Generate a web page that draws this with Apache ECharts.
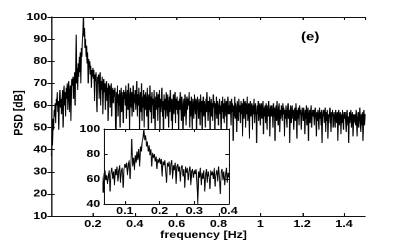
<!DOCTYPE html>
<html><head><meta charset="utf-8">
<script src="https://cdn.jsdelivr.net/npm/echarts@6/dist/echarts.min.js"></script>
<style>
html,body{margin:0;padding:0;overflow:hidden;background:#fff;width:403px;height:240px}
#c{width:322.4px;height:240px;transform:scaleX(1.25);transform-origin:0 0;}
</style>
</head><body><div id="c"></div>
<script>
// uniform frequency grid of the spectrum (Hz)
const freqStart = 0.0025;
const freqStep = 0.0025;
// PSD values in dB (one row = 0.05 Hz)
const psdValues = [
37,46,42,54,49,58,55,61,52,63,60,66,57,62,49,64,67,59,63,56,
62,67,50,65,69,60,66,55,68,63,70,58,67,71,57,66,69,53,68,72,
69,73,63,71,75,60,73,92,70,77,67,79,73,82,75,84,70,86,82,90,
93,100,91,95,86,90,82,87,79,84,70,81,77,80,74,78,68,76,73,77,
72,76,62,74,71,75,66,57,73,70,74,63,72,75,60,71,67,73,56,70,
72,66,70,58,69,71,62,68,53,70,65,69,59,67,70,55,66,68,61,67,
64,68,58,40,66,61,69,55,65,60,67,50,64,68,57,66,62,52,67,63,
66,60,69,54,64,67,58,70,62,48,65,68,59,66,55,64,69,57,65,61,
67,58,64,71,55,65,60,68,47,63,66,57,70,53,64,59,67,50,65,58,
66,61,55,68,62,46,65,58,69,57,64,52,66,60,63,54,67,59,49,64,
58,66,62,53,65,59,67,48,63,57,64,68,55,62,45,65,58,63,54,66,
62,55,65,60,50,64,57,67,61,53,63,47,60,65,56,62,66,52,63,58,
64,56,62,49,63,58,66,60,53,64,61,46,59,63,55,65,60,51,62,64,
58,63,60,66,50,62,55,64,59,48,63,60,54,65,61,56,63,46,61,64,
59,54,63,60,51,65,57,62,45,61,64,55,62,59,50,63,57,66,60,53,
62,57,64,48,60,63,55,61,53,65,59,62,47,61,56,64,54,62,59,51,
61,63,56,60,46,62,57,64,54,61,52,63,59,55,62,49,61,64,56,60,
56,62,59,51,63,57,61,44,60,55,64,54,61,58,48,62,59,53,63,57,
60,52,62,56,61,46,59,63,54,60,62,50,61,56,64,53,59,61,45,60,
62,55,59,61,49,60,56,63,52,59,61,55,43,60,56,62,53,59,61,51,
59,61,54,58,62,47,59,55,60,52,61,57,49,60,55,62,58,46,58,60,
55,60,57,50,61,55,59,44,58,60,53,62,56,51,59,61,48,58,54,60,
58,53,61,56,59,46,58,54,60,56,50,59,61,54,58,43,57,60,52,58,
60,54,58,49,57,59,53,61,56,45,58,54,59,51,60,56,58,49,55,59,
57,53,59,55,47,58,54,60,51,57,59,44,56,58,52,57,60,50,55,58,
55,58,51,57,59,54,46,57,53,58,55,49,59,54,57,51,58,43,55,57,
58,52,56,59,48,57,53,58,45,56,52,57,59,54,48,57,55,58,50,55,
57,54,50,58,55,52,57,44,56,58,51,55,57,47,56,52,58,54,49,57,
54,57,53,48,56,58,51,55,43,57,52,56,58,50,55,57,46,56,52,55,
56,51,58,54,46,54,57,50,55,59,52,48,56,51,57,44,55,58,51,56
];
const mainXTickLabels = ['0.2','0.4','0.6','0.8','1','1.2','1.4'];
const mainYTickLabels = ['10','20','30','40','50','60','70','80','90','100'];
const insetXTickLabels = ['0.1','0.2','0.3','0.4'];
const insetYTickLabels = ['40','60','80','100'];
const xTitle = 'frequency [Hz]';
const yTitle = 'PSD [dB]';
const panelLabel = '(e)';

const seriesData = psdValues.map((v, i) => [+(freqStart + i * freqStep).toFixed(4), v]);
const fontFam = '"Liberation Sans", Arial, Helvetica, sans-serif';
const lab = (list) => (v) => { const s = String(+v.toFixed(3)); return list.indexOf(s) >= 0 ? s : ''; };
const axisLine = { show: true, lineStyle: { color: '#111', width: 1 } };
const tick = { show: true, inside: true, length: 3, lineStyle: { color: '#111', width: 1 } };

const chart = echarts.init(document.getElementById('c'), null, { renderer: 'canvas', devicePixelRatio: 2 });
chart.setOption({
  animation: false,
  backgroundColor: '#fff',
  grid: [
    { left: 40.8, top: 17, width: 251.2, height: 199, show: false, containLabel: false, outerBoundsMode: 'none' },
    { left: 83.2, top: 129, width: 100, height: 75, show: true, backgroundColor: '#fff', borderWidth: 0, z: 5,
      containLabel: false, outerBoundsMode: 'none' }
  ],
  xAxis: [
    { gridIndex: 0, type: 'value', min: 0, max: 1.5, interval: 0.2, position: 'bottom',
      axisLine, axisTick: tick, splitLine: { show: false },
      axisLabel: { fontSize: 10, fontWeight: 'bold', color: '#000', fontFamily: fontFam, margin: 3,
        showMinLabel: false, showMaxLabel: false, formatter: lab(mainXTickLabels) },
      name: xTitle, nameLocation: 'middle', nameGap: 14, nameMoveOverlap: false,
      nameTextStyle: { fontSize: 10, fontWeight: 'bold', color: '#000', fontFamily: fontFam, padding: [0, 7, 0, 0] } },
    { gridIndex: 0, type: 'value', min: 0, max: 1.5, interval: 0.2, position: 'top',
      axisLine, axisTick: tick, axisLabel: { show: false }, splitLine: { show: false } },
    { gridIndex: 1, type: 'value', min: 0.04, max: 0.4, splitNumber: 4, minInterval: 0.1, maxInterval: 0.1,
      position: 'bottom', z: 7,
      axisLine, axisTick: tick, splitLine: { show: false },
      axisLabel: { fontSize: 10, fontWeight: 'bold', color: '#000', fontFamily: fontFam, margin: 2,
        showMinLabel: false, formatter: lab(insetXTickLabels) } },
    { gridIndex: 1, type: 'value', min: 0.04, max: 0.4, splitNumber: 4, minInterval: 0.1, maxInterval: 0.1,
      position: 'top', z: 7,
      axisLine, axisTick: tick, axisLabel: { show: false }, splitLine: { show: false } }
  ],
  yAxis: [
    { gridIndex: 0, type: 'value', min: 10, max: 100, interval: 10, position: 'left',
      axisLine, axisTick: tick, splitLine: { show: false },
      axisLabel: { fontSize: 10, fontWeight: 'bold', color: '#000', fontFamily: fontFam, margin: 3, formatter: lab(mainYTickLabels) },
      name: yTitle, nameLocation: 'middle', nameGap: 20, nameMoveOverlap: false,
      nameTextStyle: { fontSize: 10.5, fontWeight: 'bold', color: '#000', fontFamily: fontFam, padding: [0, 0, 0, 7] } },
    { gridIndex: 0, type: 'value', min: 10, max: 100, interval: 10, position: 'right',
      axisLine, axisTick: tick, axisLabel: { show: false }, splitLine: { show: false } },
    { gridIndex: 1, type: 'value', min: 40, max: 100, interval: 20, position: 'left', z: 7,
      axisLine, axisTick: tick, splitLine: { show: false },
      axisLabel: { fontSize: 10, fontWeight: 'bold', color: '#000', fontFamily: fontFam, margin: 3, formatter: lab(insetYTickLabels) } },
    { gridIndex: 1, type: 'value', min: 40, max: 100, interval: 20, position: 'right', z: 7,
      axisLine, axisTick: tick, axisLabel: { show: false }, splitLine: { show: false } }
  ],
  graphic: [
    { type: 'text', left: 240.8, top: 31, z: 10,
      style: { text: panelLabel, font: 'bold 12px ' + fontFam, fill: '#000' } }
  ],
  series: [
    { type: 'line', xAxisIndex: 0, yAxisIndex: 0, data: seriesData, symbol: 'none', showSymbol: false,
      lineStyle: { color: '#000', width: 0.9 }, z: 2, silent: true, clip: true },
    { type: 'line', xAxisIndex: 2, yAxisIndex: 2, data: seriesData, symbol: 'none', showSymbol: false,
      lineStyle: { color: '#000', width: 0.8 }, z: 6, silent: true, clip: true }
  ]
});
</script>
</body></html>
